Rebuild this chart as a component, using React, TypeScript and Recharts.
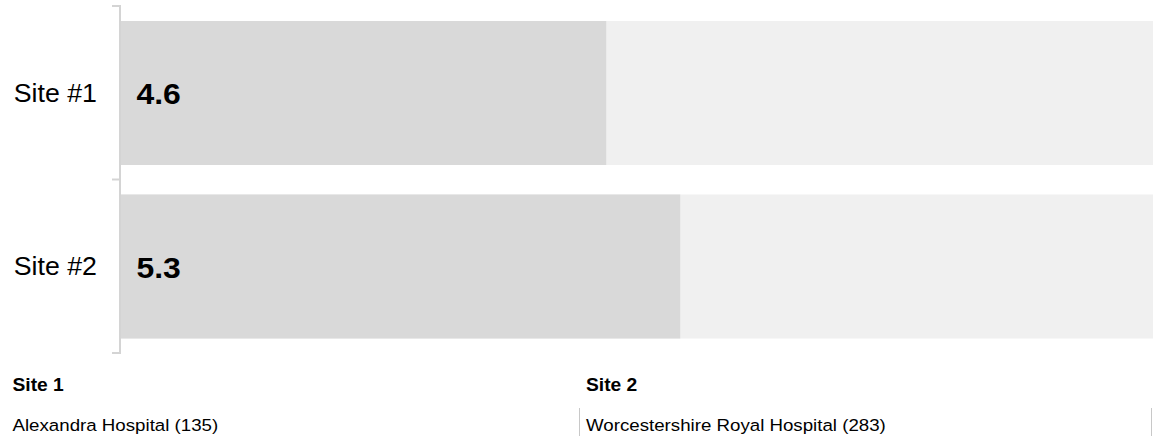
import React from 'react';
import { BarChart, Bar, XAxis, YAxis, LabelList } from 'recharts';

const categories = ['Site #1', 'Site #2'];
const scores = [4.6, 5.3];
const scaleMax = 10;
const siteHeadings = ['Site 1', 'Site 2'];
const siteNames = ['Alexandra Hospital (135)', 'Worcestershire Royal Hospital (283)'];

const data = categories.map((c, i) => ({ name: c, value: scores[i] }));

const W = 1153;
const H = 360;
const M = { top: 6, right: -24, bottom: 7, left: 0 };
const YW = 120;
const band = (H - M.top - M.bottom) / categories.length;
const FONT = '"Liberation Sans", Arial, Helvetica, sans-serif';
const AXIS = '#d4d4d4';

function SiteTick(props: any) {
  const { y, payload, index } = props;
  const ax = M.left + YW + 1;
  const last = index === categories.length - 1;
  return (
    <g>
      <line x1={ax - 9} x2={ax} y1={y - band / 2} y2={y - band / 2} stroke={AXIS} strokeWidth={2} />
      {last && (
        <line x1={ax - 9} x2={ax} y1={y + band / 2} y2={y + band / 2} stroke={AXIS} strokeWidth={2} />
      )}
      <text
        transform={`translate(${ax - 24},${y}) scale(1.07,1)`}
        textAnchor="end"
        dy={9}
        fontSize={25}
        fontFamily={FONT}
        fill="#000"
      >
        {payload.value}
      </text>
    </g>
  );
}

function ValueLabel(props: any) {
  const { x, y, height, value } = props;
  return (
    <text
      transform={`translate(${x + 16.5},${y + height / 2}) scale(1.1,1)`}
      dy={11}
      fontSize={29}
      fontWeight="bold"
      fontFamily={FONT}
      fill="#000"
    >
      {value}
    </text>
  );
}

export default function App() {
  const colX = [12.5, 586];
  return (
    <div style={{ position: 'absolute', left: 0, top: 0, width: W, height: 436, overflow: 'hidden', background: '#fff' }}>
      <BarChart width={W} height={H} data={data} layout="vertical" margin={M}>
        <XAxis type="number" domain={[0, scaleMax]} hide />
        <YAxis
          type="category"
          dataKey="name"
          width={YW}
          tickSize={0}
          tickLine={false}
          axisLine={{ stroke: AXIS, strokeWidth: 2 }}
          tick={<SiteTick />}
        />
        <Bar
          dataKey="value"
          fill="#d9d9d9"
          barSize={144}
          background={{ fill: '#f0f0f0' }}
          isAnimationActive={false}
        >
          <LabelList dataKey="value" content={<ValueLabel />} />
        </Bar>
      </BarChart>
      <svg width={W} height={436 - H} style={{ position: 'absolute', left: 0, top: H }}>
        {siteHeadings.map((h, i) => (
          <text
            key={'h' + i}
            transform={`translate(${colX[i]},${390.7 - H}) scale(1.1,1)`}
            fontSize={17.5}
            fontWeight="bold"
            fontFamily={FONT}
            fill="#000"
          >
            {h}
          </text>
        ))}
        {siteNames.map((n, i) => (
          <text
            key={'n' + i}
            transform={`translate(${colX[i]},${431 - H}) scale(1.1,1)`}
            fontSize={17}
            fontFamily={FONT}
            fill="#000"
          >
            {n}
          </text>
        ))}
        <line x1={579.5} x2={579.5} y1={408 - H} y2={436 - H} stroke="#c8c8c8" strokeWidth={1} />
        <line x1={1151.5} x2={1151.5} y1={408 - H} y2={436 - H} stroke="#c8c8c8" strokeWidth={1} />
      </svg>
    </div>
  );
}
